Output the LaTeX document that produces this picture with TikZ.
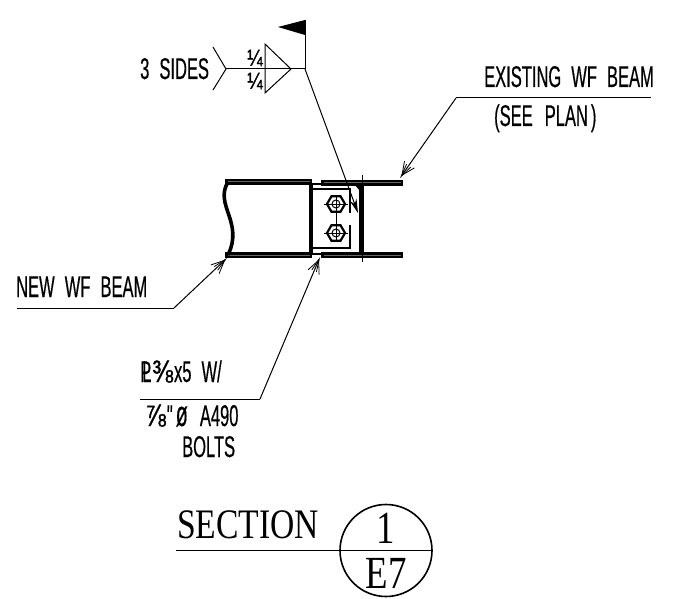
\documentclass[tikz,border=0pt]{standalone}
\usepackage{fontspec}
\usetikzlibrary{positioning}
\usetikzlibrary{arrows.meta}
\usetikzlibrary{shapes.geometric}
\newfontfamily\cadFont[FakeStretch=0.55, WordSpace=2.2, FakeBold=0.4]{Liberation Sans}
\newfontfamily\fracFont[FakeStretch=0.8, FakeBold=1.2]{Liberation Sans}
\newfontfamily\titleFont[FakeStretch=0.8]{Liberation Serif}
\newcommand{\cadFrac}[1]{{\fracFont\fontsize{31}{31}\selectfont #1}}

\begin{document}
\begin{tikzpicture}
    [x=1pt, y=-1pt,
     cadLabel/.style={inner sep=0pt, anchor=base west, font=\cadFont\fontsize{30}{30}\selectfont},
     fracLabel/.style={inner sep=0pt, font=\fracFont\fontsize{23}{23}\selectfont},
     titleLabel/.style={inner sep=0pt, anchor=base, font=\titleFont\fontsize{42}{42}\selectfont},
     markLabel/.style={inner sep=0pt, anchor=base, font=\titleFont\fontsize{46}{46}\selectfont},
     leaderLine/.style={draw=black, line width=1pt},
     leaderArrow/.style={leaderLine, -{Straight Barb[length=13pt, width=12pt, line width=0.8pt, sep=-13pt] Straight Barb[length=13pt, width=5pt, line width=0.8pt]}},
     flangeLine/.style={draw=black, line width=2.8pt, double=black!60, double distance=1pt, line cap=rect},
     webLine/.style={draw=black, line width=3.6pt},
     plateLine/.style={draw=black, line width=1.5pt},
     boltHead/.style={regular polygon, regular polygon sides=6, draw=black, line width=2.2pt, inner sep=0pt, minimum size=18pt},
    ]

    \useasboundingbox (0,0) rectangle (691,599);

    % beam coming in from the left
    \coordinate (newTopLeft) at (228,182);
    \coordinate (newTopRight) at (309,182);
    \coordinate (newBotLeft) at (228,255);
    \coordinate (newBotRight) at (309,255);
    \draw[flangeLine] (newTopLeft) -- (newTopRight);
    \draw[flangeLine] (newBotLeft) -- (newBotRight);
    \draw[webLine] (newTopLeft) .. controls (214,205) and (244,222) .. (newBotLeft);
    \coordinate (newWebTop) at (311,183);
    \coordinate (newWebBot) at (311,254);
    \draw[webLine] (newWebTop) -- (newWebBot);

    % existing beam
    \coordinate (oldTopLeft) at (324,184);
    \coordinate (oldTopRight) at (400,183);
    \coordinate (oldBotLeft) at (324,254);
    \coordinate (oldBotRight) at (400,255);
    \draw[flangeLine] (oldTopLeft |- oldTopRight) -- (oldTopRight);
    \draw[flangeLine] (oldBotLeft |- oldBotRight) -- (oldBotRight);
    \coordinate (oldWebTop) at (361,185);
    \coordinate (oldWebBot) at (361,253);
    \draw[draw=black, line width=5pt] (oldWebTop) -- (oldWebBot);
    \coordinate (centerTop) at (362,175);
    \coordinate (centerBot) at (362,262);
    \draw[leaderLine] (centerTop) -- (centerBot);
    \fill (354,184) -- (360,184) -- (360,191) -- cycle;
    \draw[draw=black, line width=2.2pt] (newWebTop |- oldTopLeft) -- (oldTopLeft);
    \draw[draw=black, line width=2.2pt] (newWebBot |- oldBotLeft) -- (oldBotLeft);

    % plate and bolts
    \coordinate (plateTopLeft) at (313,189);
    \coordinate (plateTopRight) at (350,189);
    \coordinate (plateGapTop) at (350,213);
    \coordinate (plateGapBot) at (350,225);
    \coordinate (plateBotRight) at (350,248);
    \coordinate (plateBotLeft) at (313,248);
    \draw[plateLine] (plateTopLeft) -- (plateTopRight) -- (plateGapTop);
    \draw[plateLine] (plateGapBot) -- (plateBotRight) -- (plateBotLeft);
    \foreach \boltName/\boltY in {boltTop/204, boltBot/233} {
        \node[boltHead] (\boltName) at (336,\boltY) {};
        \draw[line width=1pt] (\boltName.center) circle (4);
        \draw[line width=1pt] ([xshift=-12pt]\boltName.center) -- ([xshift=12pt]\boltName.center);
        \draw[line width=1pt] ([yshift=-7pt]\boltName.center) -- ([yshift=7pt]\boltName.center);
    }
    \draw[line width=1pt] (boltTop) -- (boltBot);

    % weld symbol
    \coordinate (tailTop) at (213,47);
    \coordinate (tailBot) at (213,90);
    \coordinate (tailApex) at (226,69);
    \coordinate (weldJoint) at (305,69);
    \coordinate (flagTop) at (305,20);
    \coordinate (flagTip) at (278,27);
    \coordinate (flagBot) at (305,35);
    \coordinate (triTop) at (265,44);
    \coordinate (triBot) at (265,93);
    \coordinate (triApex) at (291,69);
    \coordinate (weldTip) at (358,213);
    \draw[leaderLine] (tailTop) -- (tailApex) -- (tailBot);
    \draw[leaderLine] (tailApex) -- (weldJoint);
    \draw[leaderLine] (triTop) -- (triApex) -- (triBot) -- cycle;
    \draw[leaderLine] (weldJoint) -- (flagTop);
    \fill (flagTop) -- (flagTip) -- (flagBot) -- cycle;
    \draw[leaderLine, -{Stealth[length=14pt, width=7pt]}] (weldJoint) -- (weldTip);

    \node[cadLabel] (sidesText) at (140,79) {3 SIDES};
    \node[fracLabel] (weldTopFrac) at (255,58) {¼};
    \node[fracLabel] (weldBotFrac) at (255,81) {¼};

    % leaders with their text
    \node[cadLabel] (existingText) at (484,87) {EXISTING WF BEAM};
    \node[cadLabel] (planText) at (494,126) {(SEE\kern2pt\ PLAN\kern3pt)};
    \coordinate (existingEnd) at (651,98);
    \coordinate (existingBend) at (456,98);
    \coordinate (existingTip) at (400,178);
    \draw[leaderLine] (existingEnd) -- (existingBend);
    \draw[leaderArrow] (existingBend) -- (existingTip);

    \node[cadLabel] (newText) at (16,297) {NEW WF BEAM};
    \coordinate (newEnd) at (17,308);
    \coordinate (newBend) at (174,308);
    \coordinate (newTip) at (227,258);
    \draw[leaderLine] (newEnd) -- (newBend);
    \draw[leaderArrow] (newBend) -- (newTip);

    \node[cadLabel] (plateText) at (140,382) {P\kern-.3em L\kern1pt\cadFrac{⅜}\kern1pt x5 W/};
    \node[cadLabel] (boltText) at (145,426) {\cadFrac{⅞}\kern1pt"\kern3pt{\fontsize{36}{36}\selectfont ø}\kern2pt\ A490};
    \node[cadLabel] (boltsText) at (182,457) {BOLTS};
    \coordinate (plateEnd) at (140,399);
    \coordinate (plateBend) at (260,399);
    \coordinate (plateTip) at (320,257);
    \draw[leaderLine] (plateEnd) -- (plateBend);
    \draw[leaderArrow] (plateBend) -- (plateTip);

    % section mark
    \node[circle, draw=black, line width=1.6pt, inner sep=0pt, minimum size=92pt] (sectionMark) at (386,550.5) {};
    \coordinate (sectionStart) at (176,550.5);
    \draw[draw=black, line width=1.6pt] (sectionStart) -- (sectionMark.east);
    \node[titleLabel] (sectionText) at (248,538) {SECTION};
    \node[markLabel] (sectionNumber) at (386,543) {1};
    \node[markLabel] (sheetNumber) at (386,588) {E7};

\end{tikzpicture}
\end{document}
